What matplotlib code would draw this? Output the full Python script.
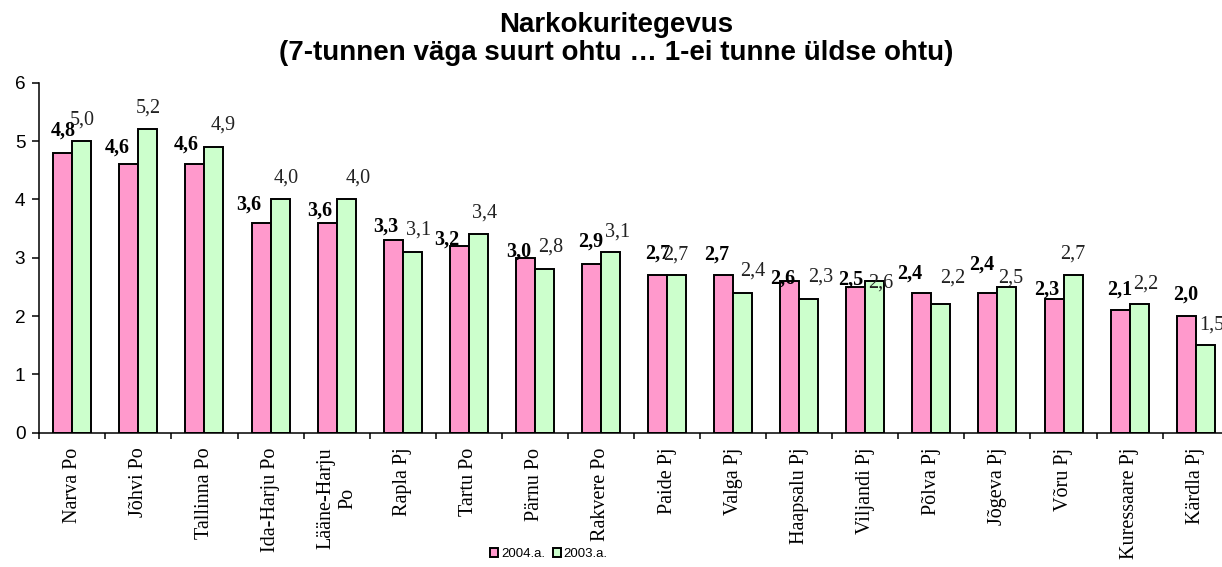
import numpy as np
import matplotlib.pyplot as plt

# Andmed: piirkonnad ja keskmised hinnangud (skaala 1..7)
piirkonnad = ["Narva Po", "Jõhvi Po", "Tallinna Po", "Ida-Harju Po", "Lääne-Harju\nPo",
              "Rapla Pj", "Tartu Po", "Pärnu Po", "Rakvere Po", "Paide Pj", "Valga Pj",
              "Haapsalu Pj", "Viljandi Pj", "Põlva Pj", "Jõgeva Pj", "Võru Pj",
              "Kuressaare Pj", "Kärdla Pj"]
a2004 = [4.8, 4.6, 4.6, 3.6, 3.6, 3.3, 3.2, 3.0, 2.9, 2.7, 2.7, 2.6, 2.5, 2.4, 2.4, 2.3, 2.1, 2.0]
a2003 = [5.0, 5.2, 4.9, 4.0, 4.0, 3.1, 3.4, 2.8, 3.1, 2.7, 2.4, 2.3, 2.6, 2.2, 2.5, 2.7, 2.2, 1.5]
seeriad = ["2004.a.", "2003.a."]

# sildi nihked tulba tipust (pikslites: dx, dy)
nihe2004 = [(0, 17), (-12, 12), (-9, 15), (-12, 13), (-7, 7), (-7, 9), (-12, 1), (-7, 1),
            (-1, 17), (0, 17), (-7, 16), (-7, -3), (-5, 2), (-12, 14), (-6, 23), (-7, 4),
            (0, 16), (0, 16)]
nihe2003 = [(0, 16), (0, 17), (9, 17), (6, 17), (12, 17), (6, 17), (6, 17), (6, 18),
            (7, 15), (-1, 16), (10, 17), (12, 17), (6, -7), (12, 22), (4, 4), (0, 17),
            (7, 16), (7, 16)]

W, H = 1222, 567
fig = plt.figure(figsize=(W / 100, H / 100), dpi=100)
ax = fig.add_axes([39.3 / W, 134.3 / H, (1228.7 - 39.3) / W, 350 / H])

x = np.arange(len(piirkonnad))
w = 0.2875
b1 = ax.bar(x - w / 2, a2004, w, color="#FF99CC", edgecolor="black", linewidth=1.4,
            label=seeriad[0])
b2 = ax.bar(x + w / 2, a2003, w, color="#CCFFCC", edgecolor="black", linewidth=1.4,
            label=seeriad[1])

def silt(v):
    return f"{v:.1f}".replace(".", ",")

for xi, v, (dx, dy) in zip(x, a2004, nihe2004):
    ax.annotate(silt(v), (xi - w / 2, v), xytext=(dx, dy), textcoords="offset pixels",
                ha="center", va="baseline", fontsize=14.5, fontweight="bold",
                family="Liberation Serif", color="black")
for xi, v, (dx, dy) in zip(x, a2003, nihe2003):
    ax.annotate(silt(v), (xi + w / 2, v), xytext=(dx, dy), textcoords="offset pixels",
                ha="center", va="baseline", fontsize=14.5,
                family="Liberation Serif", color="#222222")

ax.set_xlim(-0.5, len(piirkonnad) - 0.5)
ax.set_ylim(0, 6)
ax.set_yticks(range(7))
ax.tick_params(axis="y", direction="out", length=5, width=1.1, pad=5, labelsize=13.7)
for t in ax.get_yticklabels():
    t.set_family("Liberation Sans")

ax.set_xticks(x)
ax.set_xticklabels(piirkonnad, rotation=90, fontsize=14.5, family="Liberation Serif",
                   ha="center", va="top", multialignment="center")
ax.tick_params(axis="x", which="major", length=0, pad=10.8)
ax.set_xticks(np.arange(-0.5, len(piirkonnad)), minor=True)
ax.tick_params(axis="x", which="minor", direction="out", length=4.3, width=1.1)

for s in ("top", "right"):
    ax.spines[s].set_visible(False)
for s in ("left", "bottom"):
    ax.spines[s].set_linewidth(1.1)

fig.text(616 / W, 1 - 12 / H,
         "Narkokuritegevus\n(7-tunnen väga suurt ohtu … 1-ei tunne üldse ohtu)",
         ha="center", va="top", fontsize=20, fontweight="bold",
         family="Liberation Sans", linespacing=1.12)

leg = fig.legend(handles=[b1, b2], loc="center", bbox_to_anchor=(549 / W, 1 - 554 / H),
                 ncol=2, frameon=False, handlelength=0.6, handleheight=0.6,
                 handletextpad=0.2, columnspacing=0.6, borderpad=0,
                 prop={"family": "Liberation Sans", "size": 9.5})

fig.savefig("out.png", dpi=100)
